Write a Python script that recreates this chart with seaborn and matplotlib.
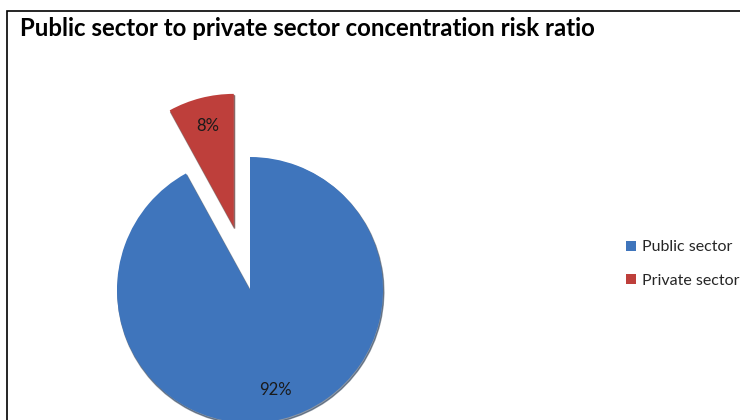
import matplotlib
matplotlib.use("Agg")
import matplotlib.pyplot as plt
import seaborn as sns
from matplotlib.patches import Rectangle, Patch

sns.set_theme(style="white")
plt.rcParams['font.family'] = ['Lato', 'DejaVu Sans']

categories = ["Public sector", "Private sector"]
values = [92, 8]
colors = ["#3F75BC", "#BE3F3B"]
title = "Public sector to private sector concentration risk ratio"

W, H = 740, 420
fig = plt.figure(figsize=(W / 100, H / 100), dpi=100)
ax = fig.add_axes([0, 0, 1, 1])

radius = 133
wedges, texts, autotexts = ax.pie(
    values, colors=colors, startangle=90, counterclock=False,
    explode=[0, 0.49 * radius], center=(250, H - 290), radius=radius,
    autopct=lambda p: f"{p:.0f}%", pctdistance=0.78,
    textprops=dict(fontsize=12, color="#1a1a1a"),
    wedgeprops=dict(edgecolor="none"),
    shadow={'ox': 0.6, 'oy': -1.2, 'shade': 0.6},
    frame=True,
)
ax.set_xlim(0, W)
ax.set_ylim(0, H)
ax.set_aspect("equal")
ax.axis("off")

# frame (right/bottom lie outside the visible area)
ax.add_patch(Rectangle((7, -20), W + 40, H - 11 + 20, fill=False,
                       edgecolor="black", lw=1.2, zorder=0))

fig.text(20 / W, 1 - 28 / H, title, fontsize=17.3, fontweight="bold",
         va="center", ha="left", color="black")

handles = [Patch(facecolor=c, edgecolor="none") for c in colors]
leg = fig.legend(handles, categories, loc="upper left",
                 bbox_to_anchor=(612 / W, 1 - 226 / H), frameon=False,
                 fontsize=11.5, handlelength=0.6, handleheight=0.6,
                 handletextpad=0.4, labelspacing=1.2)

fig.savefig("out.png", dpi=100)
